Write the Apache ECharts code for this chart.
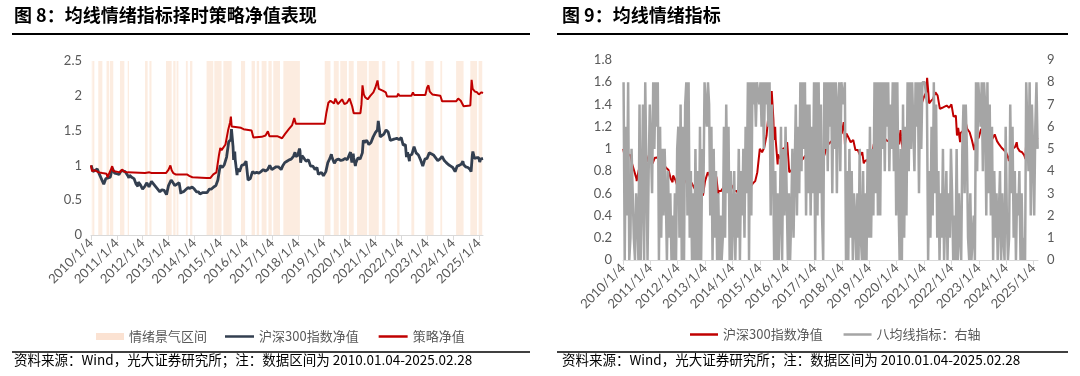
<!DOCTYPE html>
<html lang="zh">
<head>
<meta charset="utf-8">
<script src="https://cdn.jsdelivr.net/npm/echarts@6/dist/echarts.min.js"></script>
<style>
  html, body { margin: 0; padding: 0; background: #fff; }
  #chart { width: 1080px; height: 376px; }
</style>
</head>
<body>
<div id="chart"></div>
<script>
// 年度刻度标签 (横轴每年一格)
var tickYears = [2010, 2011, 2012, 2013, 2014, 2015, 2016, 2017, 2018, 2019, 2020, 2021, 2022, 2023, 2024, 2025];

// 沪深300指数净值 (日期, 净值)
var hs300 = [
  ['2010-01-04', 1.00], ['2010-01-29', 0.91], ['2010-02-26', 0.93], ['2010-03-31', 0.95], ['2010-04-15', 0.93],
  ['2010-04-30', 0.87], ['2010-05-31', 0.80], ['2010-06-30', 0.73], ['2010-07-02', 0.71], ['2010-07-30', 0.81],
  ['2010-08-31', 0.82], ['2010-09-30', 0.83], ['2010-10-29', 0.96], ['2010-11-08', 0.97], ['2010-11-30', 0.89],
  ['2010-12-31', 0.88], ['2011-01-31', 0.87], ['2011-02-28', 0.92], ['2011-03-31', 0.92], ['2011-04-18', 0.94],
  ['2011-04-29', 0.91], ['2011-05-31', 0.86], ['2011-06-20', 0.82], ['2011-06-30', 0.86], ['2011-07-29', 0.83],
  ['2011-08-31', 0.81], ['2011-09-30', 0.73], ['2011-10-24', 0.70], ['2011-10-31', 0.76], ['2011-11-30', 0.72],
  ['2011-12-30', 0.66], ['2012-01-06', 0.64], ['2012-01-31', 0.70], ['2012-02-29', 0.75], ['2012-03-30', 0.69],
  ['2012-05-04', 0.77], ['2012-05-31', 0.75], ['2012-06-29', 0.70], ['2012-07-31', 0.66], ['2012-08-31', 0.62],
  ['2012-09-28', 0.65], ['2012-10-31', 0.64], ['2012-12-03', 0.58], ['2012-12-31', 0.71], ['2013-02-06', 0.79],
  ['2013-02-28', 0.76], ['2013-03-29', 0.71], ['2013-04-26', 0.69], ['2013-05-30', 0.75], ['2013-06-25', 0.59],
  ['2013-06-28', 0.62], ['2013-07-31', 0.62], ['2013-08-30', 0.65], ['2013-09-30', 0.68], ['2013-10-31', 0.67],
  ['2013-11-29', 0.69], ['2013-12-31', 0.66], ['2014-01-30', 0.62], ['2014-02-28', 0.62], ['2014-03-20', 0.59],
  ['2014-03-31', 0.61], ['2014-04-30', 0.61], ['2014-05-30', 0.61], ['2014-06-30', 0.61], ['2014-07-31', 0.66],
  ['2014-08-29', 0.66], ['2014-09-30', 0.69], ['2014-10-31', 0.71], ['2014-11-28', 0.79], ['2014-12-31', 1.00],
  ['2015-01-30', 0.97], ['2015-02-27', 1.01], ['2015-03-31', 1.12], ['2015-04-30', 1.34], ['2015-05-29', 1.37],
  ['2015-06-08', 1.52], ['2015-06-30', 1.27], ['2015-07-08', 1.08], ['2015-07-24', 1.20], ['2015-07-31', 1.08],
  ['2015-08-26', 0.86], ['2015-08-31', 0.95], ['2015-09-30', 0.91], ['2015-10-30', 1.00], ['2015-11-30', 1.01],
  ['2015-12-31', 1.06], ['2016-01-28', 0.79], ['2016-02-29', 0.81], ['2016-03-31', 0.91], ['2016-04-29', 0.89],
  ['2016-05-31', 0.90], ['2016-06-30', 0.89], ['2016-07-29', 0.91], ['2016-08-31', 0.94], ['2016-09-30', 0.92],
  ['2016-10-31', 0.94], ['2016-11-30', 1.00], ['2016-12-30', 0.94], ['2017-01-26', 0.96], ['2017-02-28', 0.98],
  ['2017-03-31', 0.98], ['2017-04-28', 0.97], ['2017-05-10', 0.94], ['2017-05-31', 0.99], ['2017-06-30', 1.04],
  ['2017-07-31', 1.06], ['2017-08-31', 1.08], ['2017-09-29', 1.09], ['2017-10-31', 1.13], ['2017-11-22', 1.19],
  ['2017-11-30', 1.13], ['2017-12-29', 1.14], ['2018-01-24', 1.24], ['2018-01-31', 1.21], ['2018-02-09', 1.04],
  ['2018-02-28', 1.14], ['2018-03-30', 1.10], ['2018-04-27', 1.06], ['2018-05-31', 1.08], ['2018-06-29', 0.99],
  ['2018-07-31', 0.99], ['2018-08-31', 0.94], ['2018-09-28', 0.97], ['2018-10-18', 0.87], ['2018-10-31', 0.89],
  ['2018-11-30', 0.90], ['2018-12-28', 0.85], ['2019-01-03', 0.83], ['2019-01-31', 0.91], ['2019-02-28', 1.04],
  ['2019-03-29', 1.10], ['2019-04-19', 1.16], ['2019-04-30', 1.11], ['2019-05-31', 1.03], ['2019-06-28', 1.08],
  ['2019-07-31', 1.09], ['2019-08-30', 1.07], ['2019-09-30', 1.08], ['2019-10-31', 1.10], ['2019-11-29', 1.08],
  ['2019-12-31', 1.16], ['2020-01-14', 1.19], ['2020-01-23', 1.11], ['2020-02-03', 1.04], ['2020-02-21', 1.17],
  ['2020-02-28', 1.11], ['2020-03-23', 0.99], ['2020-03-31', 1.04], ['2020-04-30', 1.11], ['2020-05-29', 1.09],
  ['2020-06-30', 1.18], ['2020-07-13', 1.36], ['2020-07-31', 1.33], ['2020-08-31', 1.36], ['2020-09-30', 1.30],
  ['2020-10-30', 1.33], ['2020-11-30', 1.41], ['2020-12-31', 1.47], ['2021-01-29', 1.51], ['2021-02-10', 1.64],
  ['2021-02-26', 1.51], ['2021-03-09', 1.41], ['2021-03-31', 1.43], ['2021-04-30', 1.45], ['2021-05-31', 1.51],
  ['2021-06-30', 1.48], ['2021-07-30', 1.36], ['2021-08-31', 1.37], ['2021-09-30', 1.38], ['2021-10-29', 1.39],
  ['2021-11-30', 1.37], ['2021-12-31', 1.40], ['2022-01-28', 1.29], ['2022-02-28', 1.30], ['2022-03-15', 1.12],
  ['2022-03-31', 1.19], ['2022-04-26', 1.06], ['2022-04-29', 1.14], ['2022-05-31', 1.16], ['2022-06-30', 1.27],
  ['2022-07-29', 1.18], ['2022-08-31', 1.15], ['2022-09-30', 1.08], ['2022-10-31', 0.99], ['2022-11-30', 1.09],
  ['2022-12-30', 1.10], ['2023-01-31', 1.18], ['2023-02-28', 1.16], ['2023-03-31', 1.15], ['2023-04-28', 1.14],
  ['2023-05-31', 1.07], ['2023-06-30', 1.09], ['2023-07-31', 1.13], ['2023-08-31', 1.07], ['2023-09-28', 1.04],
  ['2023-10-31', 1.01], ['2023-11-30', 0.99], ['2023-12-29', 0.97], ['2024-01-31', 0.91], ['2024-02-05', 0.89],
  ['2024-02-29', 0.99], ['2024-03-29', 1.00], ['2024-04-30', 1.02], ['2024-05-20', 1.06], ['2024-05-31', 1.01],
  ['2024-06-28', 0.98], ['2024-07-31', 0.97], ['2024-08-30', 0.94], ['2024-09-13', 0.91], ['2024-09-30', 1.14],
  ['2024-10-08', 1.20], ['2024-10-31', 1.10], ['2024-11-29', 1.11], ['2024-12-31', 1.11], ['2025-01-13', 1.05],
  ['2025-01-27', 1.09], ['2025-02-28', 1.10]
];

// 策略净值 (年份小数, 净值)
var strategy = [
  [2010.00, 1.00], [2010.04, 0.92], [2010.15, 0.93], [2010.20, 0.91], [2010.30, 0.90], [2010.44, 0.89],
  [2010.60, 0.88], [2010.64, 0.83], [2010.70, 0.85], [2010.78, 0.95], [2010.82, 0.99], [2010.86, 0.92],
  [2011.12, 0.90], [2011.20, 0.94], [2011.29, 0.91], [2011.42, 0.90], [2011.47, 0.89], [2012.09, 0.89],
  [2012.15, 0.91], [2012.26, 0.90], [2012.34, 0.89], [2012.90, 0.89], [2013.00, 0.94], [2013.07, 1.00],
  [2013.12, 0.93], [2013.18, 0.89], [2013.27, 0.87], [2013.71, 0.87], [2013.80, 0.85], [2013.92, 0.83],
  [2014.47, 0.82], [2014.62, 0.82], [2014.73, 0.87], [2014.85, 0.90], [2014.95, 1.15], [2015.00, 1.25],
  [2015.05, 1.22], [2015.12, 1.20], [2015.20, 1.30], [2015.30, 1.50], [2015.38, 1.62], [2015.41, 1.70],
  [2015.44, 1.56], [2015.80, 1.54], [2015.90, 1.52], [2015.96, 1.50], [2016.21, 1.50], [2016.28, 1.40],
  [2016.34, 1.41], [2016.60, 1.41], [2016.75, 1.43], [2016.84, 1.49], [2016.90, 1.42], [2017.20, 1.42],
  [2017.39, 1.39], [2017.50, 1.45], [2017.65, 1.52], [2017.78, 1.58], [2017.86, 1.68], [2017.92, 1.60],
  [2018.08, 1.60], [2019.04, 1.60], [2019.10, 1.75], [2019.18, 1.90], [2019.26, 1.93], [2019.40, 1.89],
  [2019.45, 1.96], [2019.55, 1.88], [2019.71, 1.95], [2019.80, 1.88], [2019.90, 1.90], [2020.00, 1.96],
  [2020.10, 1.85], [2020.16, 1.75], [2020.42, 1.75], [2020.46, 1.88], [2020.50, 2.15], [2020.55, 2.02],
  [2020.60, 1.98], [2020.70, 1.95], [2020.80, 2.00], [2020.92, 2.05], [2021.00, 2.12], [2021.08, 2.22],
  [2021.13, 2.10], [2021.30, 2.07], [2021.40, 2.05], [2021.45, 1.99], [2021.84, 1.99], [2021.88, 2.03],
  [2021.93, 2.00], [2022.39, 2.00], [2022.45, 2.05], [2022.50, 2.01], [2022.93, 2.01], [2023.00, 2.12],
  [2023.05, 2.15], [2023.10, 2.06], [2023.20, 2.02], [2023.51, 2.00], [2023.58, 1.92], [2024.12, 1.92],
  [2024.20, 1.96], [2024.30, 1.93], [2024.41, 1.85], [2024.67, 1.86], [2024.72, 2.23], [2024.76, 2.10],
  [2024.85, 2.06], [2024.93, 2.05], [2025.00, 2.02], [2025.10, 2.05], [2025.16, 2.04]
];

// 情绪景气区间 (起, 止)
var boomZones = [
  [2010.00, 2010.01], [2010.05, 2010.13], [2010.28, 2010.44], [2010.60, 2010.70], [2010.73, 2010.86],
  [2011.12, 2011.29], [2011.42, 2011.47], [2012.09, 2012.19], [2012.26, 2012.34], [2012.90, 2013.12],
  [2013.18, 2013.27], [2013.31, 2013.38], [2013.67, 2013.74], [2013.83, 2013.92], [2014.47, 2014.73],
  [2014.77, 2015.05], [2015.12, 2015.44], [2015.80, 2015.96], [2016.21, 2016.34], [2016.41, 2016.50],
  [2016.60, 2016.79], [2016.86, 2016.99], [2017.05, 2017.31], [2017.44, 2018.08], [2019.04, 2019.26],
  [2019.39, 2019.58], [2019.64, 2019.90], [2019.97, 2020.16], [2020.29, 2020.68], [2020.74, 2021.13],
  [2021.26, 2021.38], [2021.84, 2021.93], [2022.39, 2022.50], [2022.93, 2023.25], [2023.51, 2023.58],
  [2024.12, 2024.41], [2024.67, 2024.93], [2024.99, 2025.13]
];

// 八均线指标 (0-8), 每年 24 个半月读数
var eightMAYears = [2010, 2011, 2012, 2013, 2014, 2015, 2016, 2017, 2018, 2019, 2020, 2021, 2022, 2023, 2024, 2025];
var eightMA = [
  '806280155103207037088047',
  '738586806152530413020305',
  '617060782814030504060538',
  '868726051403020161736040',
  '040315042516380828786887',
  '868587868275040302605263',
  '030251472638485827372638',
  '082837208584868385837848',
  '878040514032030510403051',
  '615283828285848684758482',
  '830507162848588486838588',
  '887041628371403150240315',
  '302050310573751030020848',
  '868487283726041302403106',
  '201736140324030108848275',
  '2685'
];

function toYear(d) {
  var t = new Date(d + 'T00:00:00Z');
  var y = t.getUTCFullYear();
  var s = Date.UTC(y, 0, 1), e = Date.UTC(y + 1, 0, 1);
  return y + (t.getTime() - s) / (e - s);
}

var hs300Data = hs300.map(function (p) { return [toYear(p[0]), p[1]]; });
var eightMAData = [];
eightMA.forEach(function (str, i) {
  for (var j = 0; j < str.length; j++) {
    eightMAData.push([eightMAYears[i] + (j + 0.5) / 24, +str[j]]);
  }
});

var labelColor = '#595959';
var numFont = 'Lato, "Noto Sans CJK SC", sans-serif';
var cjkFont = '"Noto Sans CJK SC", sans-serif';
var legendText = { color: labelColor, fontSize: 13, fontFamily: cjkFont };

function xAxisFor(gridIndex) {
  return {
    type: 'value', gridIndex: gridIndex, min: 2010, max: 2025.16,
    axisLine: { lineStyle: { color: '#D9D9D9', width: 1 } },
    axisTick: { show: true, customValues: tickYears, length: 5, lineStyle: { color: '#D9D9D9' } },
    axisLabel: {
      customValues: tickYears, rotate: 45, margin: 6,
      color: labelColor, fontSize: 13, fontFamily: numFont,
      formatter: function (v) { return v + '/1/4'; }
    },
    splitLine: { show: false }
  };
}

function yAxisFor(gridIndex, max, interval, pos, margin) {
  return {
    type: 'value', gridIndex: gridIndex, min: 0, max: max, interval: interval, position: pos,
    axisLine: { show: false }, axisTick: { show: false }, splitLine: { show: false },
    axisLabel: { color: labelColor, fontSize: 13, fontFamily: numFont, margin: margin }
  };
}

var chart = echarts.init(document.getElementById('chart'));
chart.setOption({
  animation: false,
  backgroundColor: '#fff',
  grid: [
    { left: 91, top: 61, width: 392, height: 174 },
    { left: 623, top: 60, width: 415, height: 200 }
  ],
  xAxis: [xAxisFor(0), xAxisFor(1)],
  yAxis: [
    yAxisFor(0, 2.5, 0.5, 'left', 9),
    yAxisFor(1, 1.8, 0.2, 'left', 11),
    yAxisFor(1, 9, 1, 'right', 9)
  ],
  legend: [
    {
      left: 91, top: 325, itemWidth: 28, itemHeight: 7, icon: 'rect',
      textStyle: legendText,
      data: ['情绪景气区间']
    },
    {
      left: 220, top: 325, itemWidth: 29, itemHeight: 2.5, itemGap: 20, icon: 'rect',
      textStyle: legendText,
      data: ['沪深300指数净值', '策略净值']
    },
    {
      left: 685, top: 323, itemWidth: 28, itemHeight: 2.5, itemGap: 18, icon: 'rect',
      textStyle: legendText,
      data: ['沪深300指数净值 ', '八均线指标：右轴']
    }
  ],
  series: [
    {
      name: '情绪景气区间', type: 'line', xAxisIndex: 0, yAxisIndex: 0, data: [],
      itemStyle: { color: '#FBE2D2' }, lineStyle: { color: '#FBE2D2' }, symbol: 'none',
      markArea: {
        silent: true,
        itemStyle: { color: 'rgba(246,196,162,0.33)' },
        data: boomZones.map(function (z) { return [{ xAxis: z[0] }, { xAxis: z[1] }]; })
      }
    },
    {
      name: '沪深300指数净值', type: 'line', xAxisIndex: 0, yAxisIndex: 0,
      data: hs300Data, symbol: 'none',
      itemStyle: { color: '#333F50' }, lineStyle: { color: '#333F50', width: 2.8 }
    },
    {
      name: '策略净值', type: 'line', xAxisIndex: 0, yAxisIndex: 0,
      data: strategy, symbol: 'none',
      itemStyle: { color: '#C00000' }, lineStyle: { color: '#C00000', width: 2 }
    },
    {
      name: '沪深300指数净值 ', type: 'line', xAxisIndex: 1, yAxisIndex: 1,
      data: hs300Data, symbol: 'none',
      itemStyle: { color: '#C00000' }, lineStyle: { color: '#C00000', width: 2 }
    },
    {
      name: '八均线指标：右轴', type: 'line', xAxisIndex: 1, yAxisIndex: 2,
      data: eightMAData, symbol: 'none',
      itemStyle: { color: '#A5A5A5' }, lineStyle: { color: '#A5A5A5', width: 2.5 }
    }
  ],
  graphic: [
    { type: 'text', left: 14, top: 6, style: { text: '图 8：均线情绪指标择时策略净值表现', font: 'bold 18px "Noto Sans CJK SC"', fill: '#000' } },
    { type: 'line', shape: { x1: 12, y1: 34, x2: 530, y2: 34 }, style: { stroke: '#000', lineWidth: 2 } },
    { type: 'line', shape: { x1: 12, y1: 352, x2: 530, y2: 352 }, style: { stroke: '#000', lineWidth: 1.5 } },
    { type: 'text', left: 14, top: 353, style: { text: '资料来源：Wind，光大证券研究所；注：数据区间为 2010.01.04-2025.02.28', font: '13.5px "Noto Sans CJK SC"', fill: '#000' } },
    { type: 'text', left: 562, top: 6, style: { text: '图 9：均线情绪指标', font: 'bold 18px "Noto Sans CJK SC"', fill: '#000' } },
    { type: 'line', shape: { x1: 557, y1: 34, x2: 1068, y2: 34 }, style: { stroke: '#000', lineWidth: 2 } },
    { type: 'line', shape: { x1: 557, y1: 352, x2: 1068, y2: 352 }, style: { stroke: '#000', lineWidth: 1.5 } },
    { type: 'text', left: 562, top: 353, style: { text: '资料来源：Wind，光大证券研究所；注：数据区间为 2010.01.04-2025.02.28', font: '13.5px "Noto Sans CJK SC"', fill: '#000' } }
  ]
});
</script>
</body>
</html>
